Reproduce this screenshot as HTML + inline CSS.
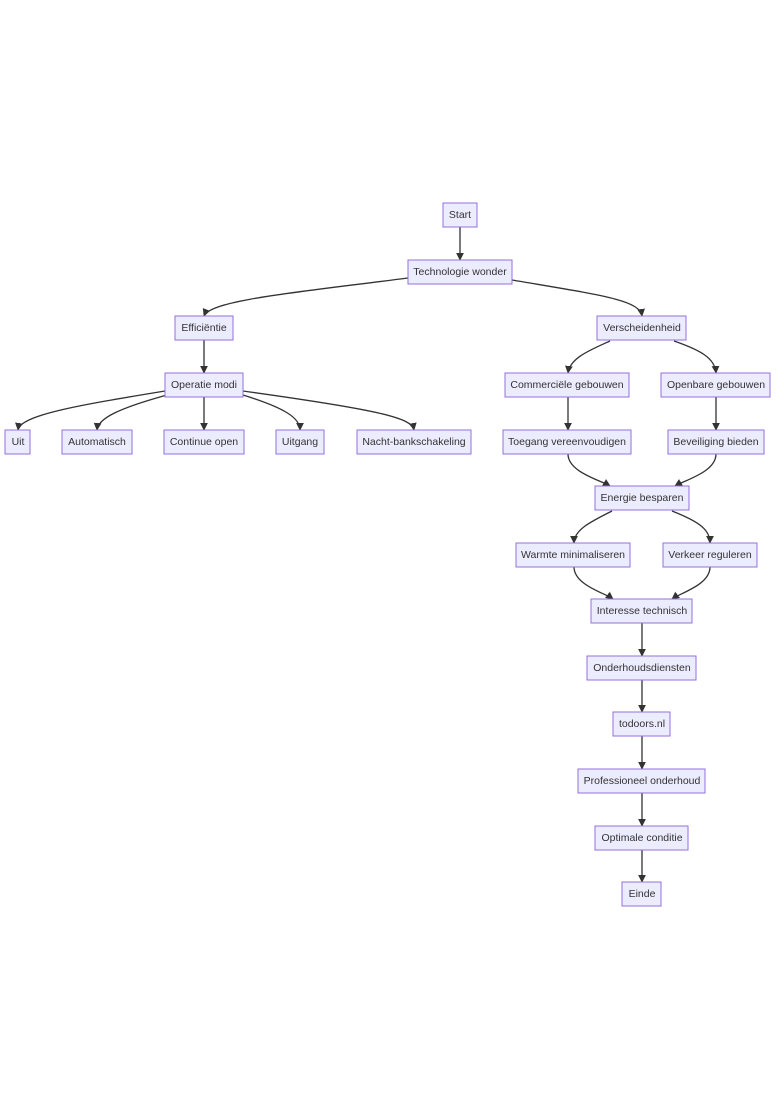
<!DOCTYPE html>
<html><head><meta charset="utf-8"><style>
html,body{margin:0;padding:0;background:#fff;}
svg{display:block;}
text{font-family:"Liberation Sans",sans-serif;font-size:10.5px;fill:#333;text-anchor:middle;dominant-baseline:central;}
rect{fill:#ECECFF;stroke:#9370DB;stroke-width:1;}
path{fill:none;stroke:#333;stroke-width:1.3;}
</style></head><body>
<svg width="784" height="1110" viewBox="0 0 784 1110">
<defs><marker id="a" viewBox="0 0 10 10" refX="9" refY="5" markerWidth="6" markerHeight="6" orient="auto"><path d="M0,0L10,5L0,10z" style="fill:#333;stroke:none"/></marker></defs>
<g marker-end="url(#a)">
<path d="M460,227V260"/>
<path d="M408,278C300,292 210,300 204,316"/>
<path d="M512,280C600,295 640,300 642,316"/>
<path d="M204,340V373"/>
<path d="M610,341C590,350 570,358 568,373"/>
<path d="M674,341C700,350 715,358 716,373"/>
<path d="M165,391C80,405 20,415 18,430"/>
<path d="M167,395C120,408 98,418 97,430"/>
<path d="M204,397V430"/>
<path d="M243,395C285,408 300,418 300,430"/>
<path d="M243,391C380,410 412,418 414,430"/>
<path d="M568,397V430"/>
<path d="M716,397V430"/>
<path d="M568,454C568,472 600,480 610,486"/>
<path d="M716,454C716,472 685,480 675,486"/>
<path d="M612,511C590,522 574,530 574,543"/>
<path d="M672,511C700,522 710,530 710,543"/>
<path d="M574,567C574,585 605,593 613,599"/>
<path d="M710,567C710,585 680,593 672,599"/>
<path d="M642,623V656"/>
<path d="M642,680V712"/>
<path d="M642,736V769"/>
<path d="M642,793V826"/>
<path d="M642,850V882"/>
</g>
<rect x="443" y="203" width="34" height="24"/><text x="460" y="215">Start</text>
<rect x="408" y="260" width="104" height="24"/><text x="460" y="272">Technologie wonder</text>
<rect x="175" y="316" width="58" height="24"/><text x="204" y="328">Efficiëntie</text>
<rect x="597" y="316" width="89" height="24"/><text x="642" y="328">Verscheidenheid</text>
<rect x="165" y="373" width="78" height="24"/><text x="204" y="385">Operatie modi</text>
<rect x="505" y="373" width="124" height="24"/><text x="567" y="385">Commerciële gebouwen</text>
<rect x="661" y="373" width="109" height="24"/><text x="716" y="385">Openbare gebouwen</text>
<rect x="5" y="430" width="25" height="24"/><text x="18" y="442">Uit</text>
<rect x="62" y="430" width="70" height="24"/><text x="97" y="442">Automatisch</text>
<rect x="164" y="430" width="80" height="24"/><text x="204" y="442">Continue open</text>
<rect x="276" y="430" width="48" height="24"/><text x="300" y="442">Uitgang</text>
<rect x="357" y="430" width="114" height="24"/><text x="414" y="442">Nacht-bankschakeling</text>
<rect x="503" y="430" width="128" height="24"/><text x="567" y="442">Toegang vereenvoudigen</text>
<rect x="668" y="430" width="96" height="24"/><text x="716" y="442">Beveiliging bieden</text>
<rect x="595" y="486" width="94" height="24"/><text x="642" y="498">Energie besparen</text>
<rect x="516" y="543" width="114" height="24"/><text x="573" y="555">Warmte minimaliseren</text>
<rect x="663" y="543" width="94" height="24"/><text x="710" y="555">Verkeer reguleren</text>
<rect x="591" y="599" width="101" height="24"/><text x="642" y="611">Interesse technisch</text>
<rect x="587" y="656" width="109" height="24"/><text x="642" y="668">Onderhoudsdiensten</text>
<rect x="613" y="712" width="57" height="24"/><text x="642" y="724">todoors.nl</text>
<rect x="578" y="769" width="127" height="24"/><text x="642" y="781">Professioneel onderhoud</text>
<rect x="595" y="826" width="93" height="24"/><text x="642" y="838">Optimale conditie</text>
<rect x="622" y="882" width="39" height="24"/><text x="642" y="894">Einde</text>
</svg>
</body></html>
